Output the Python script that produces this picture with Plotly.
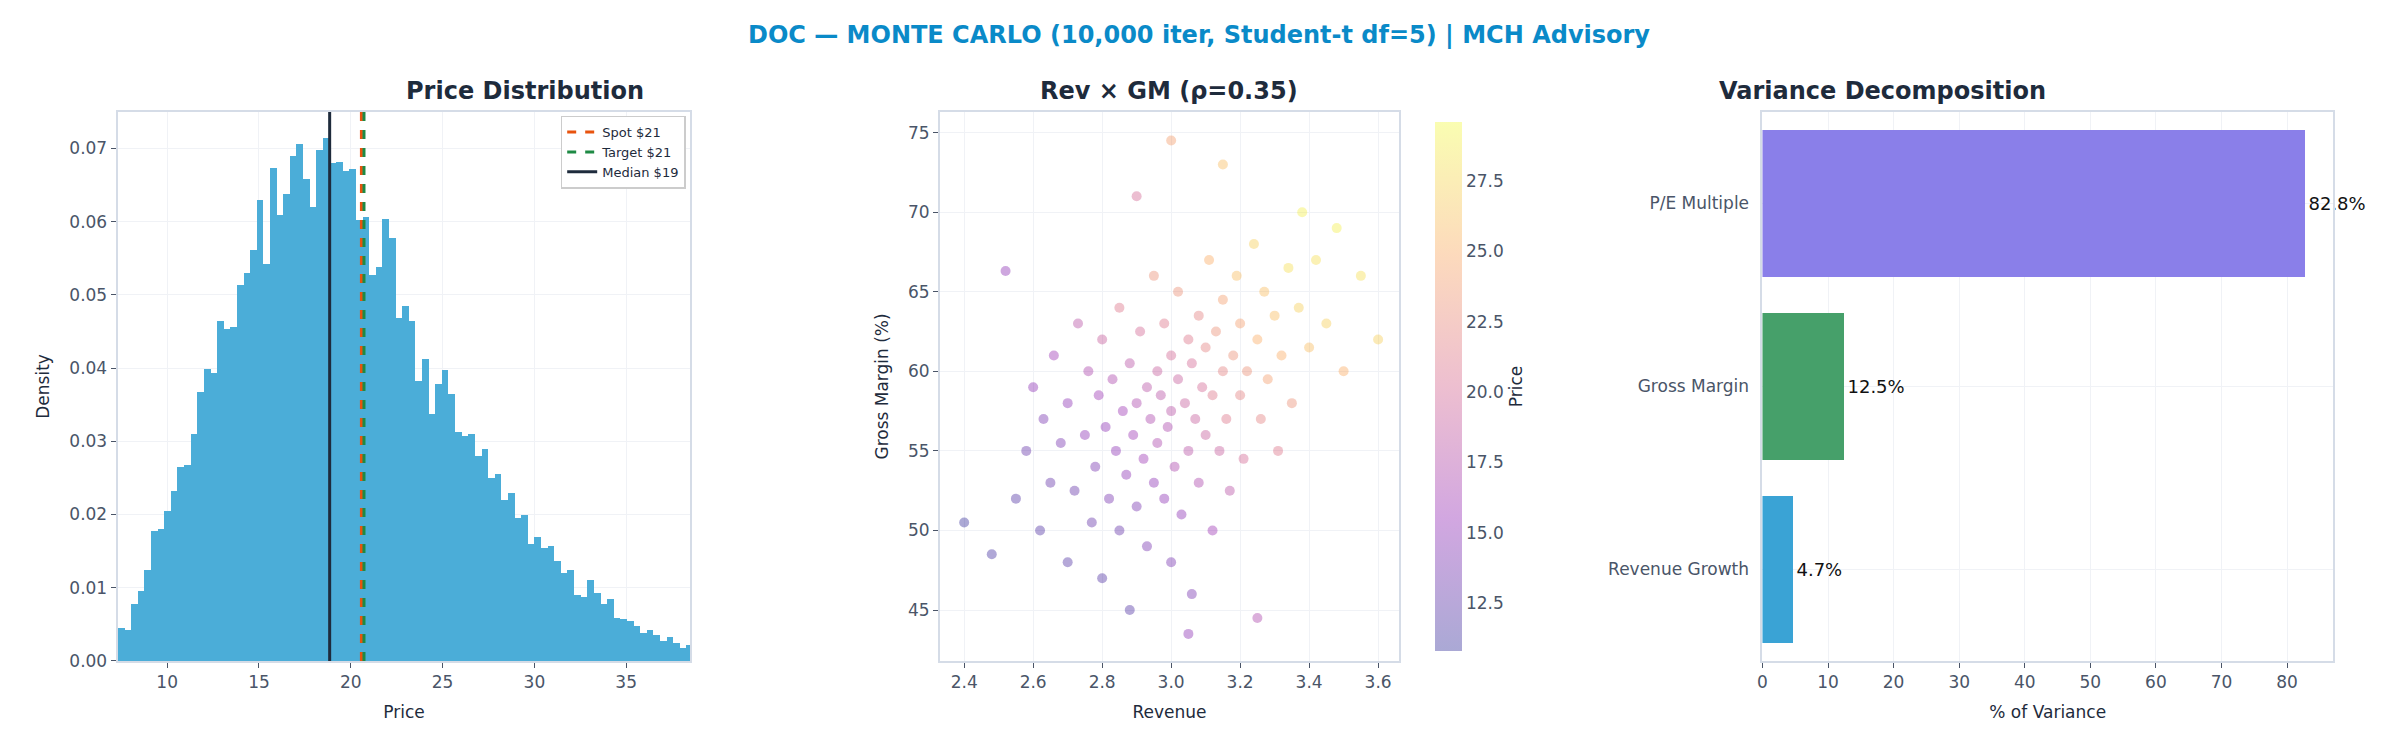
import plotly.graph_objects as go
from plotly.subplots import make_subplots

# histogram (density per bin), bins start at 7.3, width 0.36
hist_start = 7.3
hist_width = 0.36
hist_density = [
    0.0045, 0.0043, 0.0078, 0.0095, 0.0125, 0.0178, 0.018, 0.0205, 0.0232, 0.0265,
    0.0268, 0.031, 0.0368, 0.0399, 0.0393, 0.0465, 0.0453, 0.0456, 0.0514, 0.053,
    0.0562, 0.063, 0.0543, 0.0674, 0.0609, 0.0638, 0.069, 0.0706, 0.0658, 0.062,
    0.0698, 0.0715, 0.068, 0.0682, 0.067, 0.0672, 0.0602, 0.0606, 0.0528, 0.0538,
    0.0604, 0.0578, 0.0468, 0.0485, 0.0465, 0.0382, 0.0412, 0.0337, 0.0379, 0.0398,
    0.0365, 0.0313, 0.0308, 0.031, 0.028, 0.029, 0.025, 0.0255, 0.022, 0.023,
    0.0195, 0.02, 0.016, 0.017, 0.0155, 0.0157, 0.0137, 0.012, 0.0125, 0.009,
    0.0088, 0.011, 0.0093, 0.0078, 0.0085, 0.0059, 0.0058, 0.0055, 0.0048, 0.0038,
    0.0042, 0.0036, 0.0028, 0.0033, 0.0025, 0.0018, 0.0022, 0.0012, 0.0013, 0.001,
]
spot_price = 20.58
target_price = 20.72
median_price = 18.85

# scatter sample (revenue, gross margin %, price)
rev = [2.40, 2.48, 2.52, 2.55, 2.58, 2.60, 2.62, 2.63, 2.65, 2.66, 2.68, 2.70, 2.70, 2.72, 2.73,
       2.75, 2.76, 2.77, 2.78, 2.79, 2.80, 2.80, 2.81, 2.82, 2.83, 2.84, 2.85, 2.85, 2.86, 2.87,
       2.88, 2.88, 2.89, 2.90, 2.90, 2.91, 2.92, 2.93, 2.93, 2.94, 2.95, 2.95, 2.96, 2.96, 2.97,
       2.98, 2.98, 2.99, 3.00, 3.00, 3.00, 3.01, 3.02, 3.02, 3.03, 3.04, 3.05, 3.05, 3.06, 3.06,
       3.07, 3.08, 3.08, 3.09, 3.10, 3.10, 3.11, 3.12, 3.12, 3.13, 3.14, 3.15, 3.15, 3.16, 3.17,
       3.18, 3.19, 3.20, 3.20, 3.21, 3.22, 3.24, 3.25, 3.26, 3.27, 3.28, 3.30, 3.31, 3.32, 3.34,
       3.35, 3.37, 3.38, 3.40, 3.42, 3.45, 3.48, 3.50, 3.55, 3.60, 3.00, 3.25, 3.05, 2.90, 3.15]
gm = [50.5, 48.5, 66.3, 52.0, 55.0, 59.0, 50.0, 57.0, 53.0, 61.0, 55.5, 48.0, 58.0, 52.5, 63.0,
      56.0, 60.0, 50.5, 54.0, 58.5, 62.0, 47.0, 56.5, 52.0, 59.5, 55.0, 64.0, 50.0, 57.5, 53.5,
      60.5, 45.0, 56.0, 58.0, 51.5, 62.5, 54.5, 59.0, 49.0, 57.0, 66.0, 53.0, 60.0, 55.5, 58.5,
      52.0, 63.0, 56.5, 61.0, 48.0, 57.5, 54.0, 59.5, 65.0, 51.0, 58.0, 62.0, 55.0, 60.5, 46.0,
      57.0, 63.5, 53.0, 59.0, 61.5, 56.0, 67.0, 58.5, 50.0, 62.5, 55.0, 60.0, 64.5, 57.0, 52.5,
      61.0, 66.0, 58.5, 63.0, 54.5, 60.0, 68.0, 62.0, 57.0, 65.0, 59.5, 63.5, 55.0, 61.0, 66.5,
      58.0, 64.0, 70.0, 61.5, 67.0, 63.0, 69.0, 60.0, 66.0, 62.0, 74.5, 44.5, 43.5, 71.0, 73.0]
price = [11, 11.5, 15, 12, 13, 15, 12, 14, 13, 16, 14, 12, 15, 13, 18,
         15, 17, 13, 14, 16, 19, 12, 15, 14, 17, 15, 21, 13, 16, 15,
         18, 12, 16, 17, 14, 20, 16, 18, 14, 17, 23, 15, 19, 17, 18,
         15, 21, 17, 20, 14, 18, 17, 19, 23, 15, 19, 21, 18, 20, 14,
         19, 22, 17, 20, 22, 19, 25, 21, 16, 23, 19, 22, 24, 21, 18,
         23, 26, 22, 24, 20, 23, 27, 25, 22, 26, 24, 26, 21, 25, 28,
         23, 27, 29, 26, 28, 27, 29, 25, 28, 27, 24, 17, 15, 20, 26]

# variance decomposition
drivers = ["Revenue Growth", "Gross Margin", "P/E Multiple"]
variance_pct = [4.7, 12.5, 82.8]
driver_colors = ["#3aa3d5", "#46a06a", "#8a7fe9"]

NAVY = "#1e2b3c"
GREY = "#4a5568"
FRAME = "#d5dce7"
GRID = "#f0f2f6"

fig = make_subplots(rows=1, cols=3)

hist_x = [hist_start + hist_width * (i + 0.5) for i in range(len(hist_density))]
fig.add_trace(go.Bar(x=hist_x, y=hist_density, width=hist_width, marker=dict(color="#4badd8", line_width=0),
                     showlegend=False), row=1, col=1)
for name, xv, color, dash in [(f"Spot ${spot_price:.0f}", spot_price, "#e8530e", "dash"),
                              (f"Target ${target_price:.0f}", target_price, "#1e8a44", "dash"),
                              (f"Median ${median_price:.0f}", median_price, NAVY, "solid")]:
    fig.add_trace(go.Scatter(x=[xv, xv], y=[0, 0.075], mode="lines", name=name,
                             line=dict(color=color, width=3, dash=dash)), row=1, col=1)

plasma_a = [[0.0, "rgba(13,8,135,0.35)"], [0.25, "rgba(126,3,168,0.35)"], [0.5, "rgba(204,71,120,0.35)"],
            [0.75, "rgba(248,149,64,0.35)"], [1.0, "rgba(240,249,33,0.35)"]]
fig.add_trace(go.Scatter(x=rev, y=gm, mode="markers", showlegend=False,
                         marker=dict(size=10, color=price, colorscale=plasma_a, cmin=10.8, cmax=29.6,
                                     colorbar=dict(x=0.594, xanchor="left", len=0.75, y=0.108, yanchor="bottom",
                                                   thickness=27, outlinewidth=0,
                                                   tickvals=[12.5, 15, 17.5, 20, 22.5, 25, 27.5],
                                                   ticktext=["12.5", "15.0", "17.5", "20.0", "22.5", "25.0", "27.5"],
                                                   tickfont=dict(size=17, color=GREY),
                                                   title=dict(text="Price", side="right", font=dict(size=17, color=NAVY))))),
              row=1, col=2)

fig.add_trace(go.Bar(y=drivers, x=variance_pct, orientation="h", marker=dict(color=driver_colors, line_width=0),
                     width=0.8, text=[f"{v}%" for v in variance_pct], textposition="outside",
                     textfont=dict(size=18, color="#111"), cliponaxis=False, showlegend=False), row=1, col=3)

axis_common = dict(showline=True, linecolor=FRAME, linewidth=2, mirror=True, gridcolor=GRID,
                   ticks="outside", tickcolor=GREY, tickfont=dict(size=17, color=GREY), zeroline=False)
fig.update_xaxes(**axis_common)
fig.update_yaxes(**axis_common)

fig.update_layout(
    xaxis=dict(domain=[0.044, 0.285], range=[7.3, 38.5], dtick=5, title=dict(text="Price", font=dict(size=17, color=NAVY))),
    yaxis=dict(domain=[0.108, 0.858], range=[0, 0.075], dtick=0.01, tickformat=".2f",
               title=dict(text="Density", font=dict(size=17, color=NAVY))),
    xaxis2=dict(domain=[0.39, 0.583], range=[2.33, 3.66], dtick=0.2, tickformat=".1f",
                title=dict(text="Revenue", font=dict(size=17, color=NAVY))),
    yaxis2=dict(domain=[0.108, 0.858], range=[41.8, 76.3], dtick=5,
                title=dict(text="Gross Margin (%)", font=dict(size=17, color=NAVY))),
    xaxis3=dict(domain=[0.736, 0.976], range=[0, 87], dtick=10,
                title=dict(text="% of Variance", font=dict(size=17, color=NAVY))),
    yaxis3=dict(domain=[0.108, 0.858], ticks="", ticklabelstandoff=8),
    bargap=0,
    title=dict(text="<b>DOC — MONTE CARLO (10,000 iter, Student-t df=5) | MCH Advisory</b>",
               x=0.5, y=0.975, font=dict(size=24, color="#0a8ac8")),
    annotations=[
        dict(text="<b>Price Distribution</b>", x=0.1645, y=0.865, xref="paper", yref="paper", showarrow=False,
             yanchor="bottom", font=dict(size=24, color=NAVY)),
        dict(text="<b>Rev × GM (ρ=0.35)</b>", x=0.4865, y=0.865, xref="paper", yref="paper", showarrow=False,
             yanchor="bottom", font=dict(size=24, color=NAVY)),
        dict(text="<b>Variance Decomposition</b>", x=0.856, y=0.865, xref="paper", yref="paper", showarrow=False,
             yanchor="bottom", font=dict(size=24, color=NAVY)),
    ],
    legend=dict(x=0.283, y=0.853, xanchor="right", yanchor="top", bgcolor="white", bordercolor="#cccccc",
                borderwidth=1.5, font=dict(size=13, color=NAVY)),
    font=dict(family="DejaVu Sans"),
    plot_bgcolor="white", paper_bgcolor="white",
    width=2382, height=742, margin=dict(l=0, r=0, t=0, b=0),
)

fig.write_html("out.html")
